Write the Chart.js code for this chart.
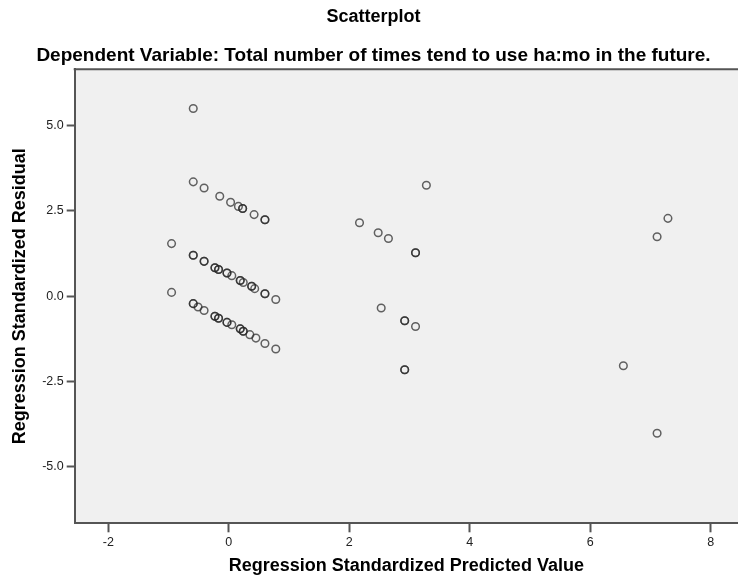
<!DOCTYPE html>
<html>
<head>
<meta charset="utf-8">
<script src="https://cdn.jsdelivr.net/npm/chart.js@4"></script>
<style>
  html, body { margin: 0; padding: 0; background: #ffffff; }
  #wrap { width: 738px; height: 580px; position: relative; }
</style>
</head>
<body>
<div id="wrap"><canvas id="chart" width="738" height="580"></canvas></div>
<script>
// Regression diagnostics: standardized predicted value vs standardized residual
const predicted = [
  -0.59,
  -0.59, -0.41, -0.15, 0.03, 0.16, 0.23, 0.23, 0.42, 0.60, 0.60,
  -0.95, -0.59, -0.59, -0.41, -0.41, -0.23, -0.23, -0.17, -0.17, -0.03, -0.03,
  0.05, 0.19, 0.19, 0.24, 0.38, 0.38, 0.43, 0.60, 0.60, 0.78,
  -0.95, -0.59, -0.59, -0.51, -0.41, -0.23, -0.23, -0.17, -0.17, -0.03, -0.03,
  0.05, 0.19, 0.19, 0.24, 0.24, 0.35, 0.45, 0.60, 0.78,
  2.17, 2.48, 2.65, 3.10, 3.10, 3.28, 2.53, 2.92, 2.92, 3.10, 2.92, 2.92,
  7.29, 7.11, 6.55, 7.11
];
const residual = [
  5.50,
  3.35, 3.17, 2.93, 2.75, 2.63, 2.57, 2.57, 2.39, 2.24, 2.24,
  1.54, 1.20, 1.20, 1.02, 1.02, 0.83, 0.83, 0.78, 0.78, 0.68, 0.68,
  0.60, 0.46, 0.46, 0.40, 0.29, 0.29, 0.22, 0.07, 0.07, -0.10,
  0.11, -0.22, -0.22, -0.32, -0.42, -0.59, -0.59, -0.65, -0.65, -0.77, -0.77,
  -0.84, -0.96, -0.96, -1.03, -1.03, -1.13, -1.23, -1.39, -1.55,
  2.15, 1.86, 1.69, 1.27, 1.27, 3.25, -0.35, -0.72, -0.72, -0.89, -2.16, -2.16,
  2.28, 1.74, -2.04, -4.02
];
const xTicks = [-2, 0, 2, 4, 6, 8];
const yTicks = [-5, -2.5, 0, 2.5, 5];

const titleText = 'Scatterplot';
const subtitleText = 'Dependent Variable: Total number of times tend to use ha:mo in the future.';
const xTitle = 'Regression Standardized Predicted Value';
const yTitle = 'Regression Standardized Residual';

const FONT = "'Liberation Sans', Arial, sans-serif";
const frameColor = '#555555';

const points = predicted.map((x, i) => ({ x: x, y: residual[i] }));

// Grey plot background and the top frame line
const plotFrame = {
  id: 'plotFrame',
  beforeDraw(chart) {
    const { ctx, chartArea: a } = chart;
    ctx.save();
    ctx.fillStyle = '#f0f0f0';
    ctx.fillRect(a.left, a.top, a.right - a.left, a.bottom - a.top);
    ctx.restore();
  },
  afterDraw(chart) {
    const { ctx, chartArea: a } = chart;
    ctx.save();
    ctx.strokeStyle = frameColor;
    ctx.lineWidth = 2;
    ctx.beginPath();
    ctx.moveTo(a.left - 1, a.top);
    ctx.lineTo(a.right, a.top);
    ctx.stroke();
    ctx.restore();
  }
};

new Chart(document.getElementById('chart'), {
  type: 'scatter',
  data: {
    datasets: [{
      data: points,
      pointStyle: 'circle',
      pointRadius: 3.8,
      pointHoverRadius: 3.8,
      pointBorderWidth: 1.5,
      pointBorderColor: 'rgba(40,40,40,0.72)',
      pointBackgroundColor: 'rgba(0,0,0,0)'
    }]
  },
  options: {
    responsive: false,
    animation: false,
    layout: { autoPadding: false, padding: { left: 9, right: 0, top: 0, bottom: 0 } },
    plugins: {
      legend: { display: false },
      tooltip: { enabled: false },
      title: {
        display: true,
        text: titleText,
        color: '#000',
        font: { family: FONT, size: 18, weight: 'bold' },
        padding: { top: 6.2, bottom: 0 }
      },
      subtitle: {
        display: true,
        text: subtitleText,
        color: '#000',
        font: { family: FONT, size: 19, weight: 'bold' },
        padding: { top: 16.3, bottom: 2.4 }
      }
    },
    scales: {
      x: {
        type: 'linear',
        min: -2.558,
        max: 8.453,
        afterBuildTicks(scale) { scale.ticks = xTicks.map(v => ({ value: v })); },
        afterFit(scale) {
          scale.height = 56.7;
          scale.paddingLeft = 0;
          scale.paddingRight = 0;
        },
        grid: { display: true, drawOnChartArea: false, drawTicks: true, tickLength: 9, tickColor: frameColor, tickWidth: 2 },
        border: { display: true, color: frameColor, width: 2 },
        ticks: {
          padding: 3,
          color: '#222',
          font: { family: FONT, size: 12.5 },
          callback: v => String(v)
        },
        title: {
          display: true,
          text: xTitle,
          color: '#000',
          font: { family: FONT, size: 18, weight: 'bold' },
          padding: { top: 0, bottom: 3.2 }
        }
      },
      y: {
        type: 'linear',
        min: -6.66,
        max: 6.65,
        afterBuildTicks(scale) { scale.ticks = yTicks.map(v => ({ value: v })); },
        afterFit(scale) {
          scale.width = 65.7;
          scale.paddingTop = 0;
          scale.paddingBottom = 0;
        },
        grid: { display: true, drawOnChartArea: false, drawTicks: true, tickLength: 8, tickColor: frameColor, tickWidth: 2 },
        border: { display: true, color: frameColor, width: 2 },
        ticks: {
          padding: 3,
          color: '#222',
          font: { family: FONT, size: 12.5 },
          callback: v => Number(v).toFixed(1)
        },
        title: {
          display: true,
          text: yTitle,
          color: '#000',
          font: { family: FONT, size: 18, weight: 'bold' },
          padding: { top: 0.2, bottom: 0 }
        }
      }
    }
  },
  plugins: [plotFrame]
});
</script>
</body>
</html>
